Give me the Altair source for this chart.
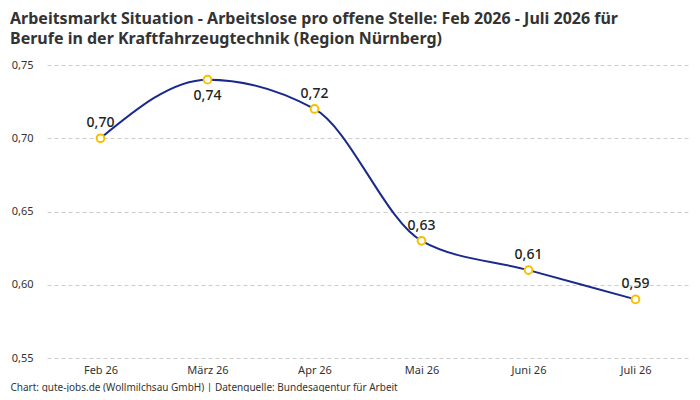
import altair as alt
import pandas as pd

monate = ["Feb 26", "März 26", "Apr 26", "Mai 26", "Juni 26", "Juli 26"]
werte = [0.70, 0.74, 0.72, 0.63, 0.61, 0.59]
lage = ["oben", "unten", "oben", "oben", "oben", "oben"]

df = pd.DataFrame({"monat": monate, "wert": werte, "lage": lage})
df["label"] = df["wert"].map(lambda v: f"{v:.2f}".replace(".", ","))

FONT = "Noto Sans"

x = alt.X(
    "monat:N",
    sort=monate,
    scale=alt.Scale(paddingInner=0, paddingOuter=0),
    axis=alt.Axis(
        title="Chart: gute-jobs.de (Wollmilchsau GmbH) | Datenquelle: Bundesagentur für Arbeit",
        titleAnchor="start",
        titleAlign="left",
        titleBaseline="alphabetic",
        titleX=-37,
        titleY=32,
        titleFontSize=10,
        titleFontWeight="normal",
        titleColor="#333333",
        titleFont=FONT,
        labelAngle=0,
        labelFontSize=11,
        labelColor="#333333",
        labelFont=FONT,
        labelPadding=6,
        ticks=False,
        domain=False,
        grid=False,
    ),
)
y = alt.Y(
    "wert:Q",
    scale=alt.Scale(domain=[0.55, 0.75], nice=False, zero=False),
    axis=alt.Axis(
        title=None,
        values=[0.55, 0.60, 0.65, 0.70, 0.75],
        format=".2f",
        labelExpr="replace(datum.label, '.', ',')",
        labelFontSize=11,
        labelColor="#333333",
        labelFont=FONT,
        labelPadding=14,
        ticks=False,
        domain=False,
        grid=True,
        gridColor="#cccccc",
        gridDash=[4, 3],
        gridWidth=1,
    ),
)

base = alt.Chart(df)

line = base.mark_line(color="#1a2a8c", strokeWidth=2, interpolate="monotone").encode(x=x, y=y)
points = base.mark_point(
    filled=True, fill="white", stroke="#f5c000", strokeWidth=2, size=60, opacity=1
).encode(x=x, y=y)
text_oben = base.transform_filter(alt.datum.lage == "oben").mark_text(
    dy=-15, fontSize=14, fontWeight=500, color="#222222", font=FONT
).encode(x=x, y=y, text="label:N")
text_unten = base.transform_filter(alt.datum.lage == "unten").mark_text(
    dy=16, fontSize=14, fontWeight=500, color="#222222", font=FONT
).encode(x=x, y=y, text="label:N")

chart = (
    alt.layer(line, points, text_oben, text_unten)
    .properties(
        width=642,
        height=293,
        autosize="none",
        background="white",
        padding={"left": 39, "top": 57, "right": 3, "bottom": 34},
        title=alt.TitleParams(
            text=[
                "Arbeitsmarkt Situation - Arbeitslose pro offene Stelle: Feb 2026 - Juli 2026 für",
                "Berufe in der Kraftfahrzeugtechnik (Region Nürnberg)",
            ],
            anchor="start",
            frame="bounds",
            fontSize=16,
            fontWeight="bold",
            color="#333333",
            font=FONT,
            lineHeight=20,
            offset=12,
        ),
    )
    .configure_view(stroke="transparent", strokeWidth=0)
    .configure_axis(domain=False)
)

chart.save("out.html", embed_options={"renderer": "svg", "actions": False})
